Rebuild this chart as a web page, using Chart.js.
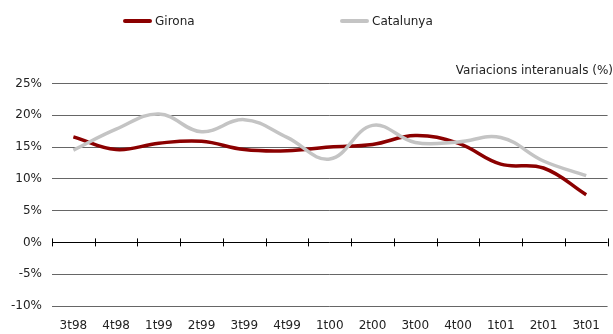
<!DOCTYPE html>
<html>
<head>
<meta charset="utf-8">
<script src="https://cdn.jsdelivr.net/npm/chart.js@4/dist/chart.umd.min.js"></script>
<style>
  html, body { margin: 0; padding: 0; background: #fff; }
  #wrap { position: relative; width: 613px; height: 334px; }
  .leg { position: absolute; top: 14px; font: 12px "DejaVu Sans", sans-serif; color: #222; display: flex; align-items: center; }
  .leg i { display: inline-block; width: 29px; height: 4px; border-radius: 2px; margin-right: 3px; }
</style>
</head>
<body>
<div id="wrap">
  <canvas id="chart" width="613" height="334"></canvas>
  <div class="leg" style="left:123px"><i style="background:#8b0000"></i>Girona</div>
  <div class="leg" style="left:340px"><i style="background:#c4c4c4"></i>Catalunya</div>
</div>
<script>
// trimestres i variacions interanuals (%)
const trimestres = ['3t98', '4t98', '1t99', '2t99', '3t99', '4t99', '1t00', '2t00', '3t00', '4t00', '1t01', '2t01', '3t01'];
const girona = [16.6, 14.6, 15.6, 15.9, 14.6, 14.4, 15.0, 15.4, 16.8, 15.6, 12.3, 11.7, 7.5];
const catalunya = [14.5, 17.8, 20.2, 17.4, 19.3, 16.5, 13.1, 18.4, 15.7, 15.8, 16.5, 12.8, 10.5];
const yTicks = [-10, -5, 0, 5, 10, 15, 20, 25];

const fontFamily = '"DejaVu Sans", sans-serif';

// marques de l'eix X sobre la línia del 0%
const zeroTicks = {
  id: 'zeroTicks',
  afterDatasetsDraw(chart) {
    const x = chart.scales.x, y = chart.scales.y;
    const y0 = y.getPixelForValue(0);
    const half = (x.getPixelForValue(1) - x.getPixelForValue(0)) / 2;
    const c = chart.ctx;
    c.save();
    c.strokeStyle = '#000';
    c.lineWidth = 1;
    c.beginPath();
    for (let i = 0; i <= trimestres.length; i++) {
      const px = Math.round(x.getPixelForValue(i) - half) + 0.5;
      c.moveTo(px, y0 - 4);
      c.lineTo(px, y0 + 4);
    }
    c.stroke();
    c.restore();
  }
};

const ctx = document.getElementById('chart').getContext('2d');
new Chart(ctx, {
  type: 'line',
  data: {
    labels: trimestres,
    datasets: [{
      label: 'Catalunya',
      data: catalunya,
      borderColor: '#c4c4c4',
      borderWidth: 3.5,
      pointRadius: 0,
      tension: 0.4,
      fill: false,
    }, {
      label: 'Girona',
      data: girona,
      borderColor: '#8b0000',
      borderWidth: 3.5,
      pointRadius: 0,
      tension: 0.4,
      fill: false,
    }]
  },
  options: {
    responsive: false,
    animation: false,
    layout: { padding: { top: 62, left: 0, right: 0, bottom: 0 } },
    plugins: {
      legend: { display: false },
      tooltip: { enabled: false },
      title: {
        display: true,
        text: 'Variacions interanuals (%)',
        align: 'end',
        color: '#222',
        font: { family: fontFamily, size: 12, weight: 'normal' },
        padding: { top: 2, bottom: 5 },
      },
    },
    scales: {
      x: {
        offset: true,
        afterFit: axis => { axis.height = 28; },
        grid: { display: false, drawTicks: false, tickLength: 0 },
        border: { display: false },
        ticks: { color: '#222', font: { family: fontFamily, size: 12 }, maxRotation: 0, autoSkip: false, padding: 13 },
      },
      y: {
        min: -10,
        max: 25,
        afterFit: axis => { axis.width = 52; },
        afterBuildTicks: axis => { axis.ticks = yTicks.map(v => ({ value: v })); },
        grid: {
          color: ctx => ctx.tick && ctx.tick.value === 0 ? '#000' : '#666',
          drawTicks: false,
        },
        border: { display: false },
        ticks: {
          color: '#222',
          font: { family: fontFamily, size: 12 },
          padding: 10,
          callback: v => v + '%',
        },
      },
    },
  },
  plugins: [zeroTicks],
});
</script>
</body>
</html>
